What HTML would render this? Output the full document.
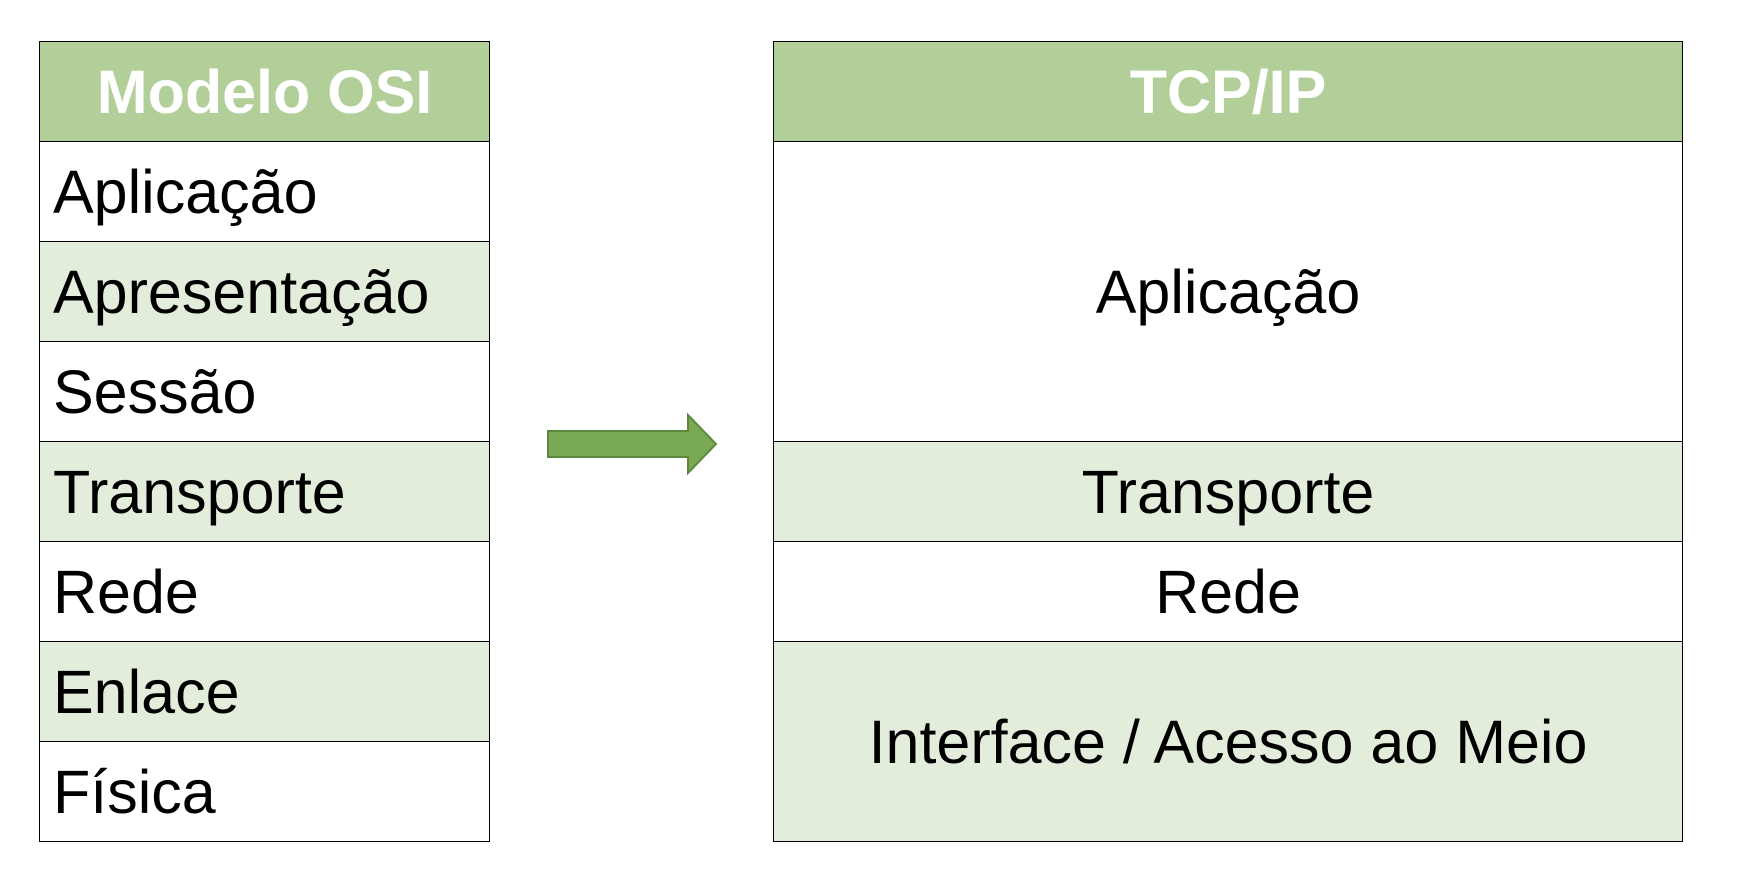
<!DOCTYPE html>
<html><head><meta charset="utf-8"><style>
body{margin:0;width:1738px;height:886px;background:#fff;overflow:hidden;font-family:"Comic Sans MS","Liberation Sans",sans-serif;}
.c{position:absolute;box-sizing:border-box;border:1.5px solid #000;display:flex;align-items:center;font-size:61px;color:#000;}
.h{background:#b3cf99;color:#fff;font-weight:bold;justify-content:center;}
.g{background:#e3eddb;}
.l{padding-left:13px;}
.r{justify-content:center;}
</style></head><body>
<div class="c h" style="left:39px;top:41px;width:451px;height:101px">Modelo OSI</div>
<div class="c l" style="left:39px;top:141px;width:451px;height:101px">Aplicação</div>
<div class="c l g" style="left:39px;top:241px;width:451px;height:101px">Apresentação</div>
<div class="c l" style="left:39px;top:341px;width:451px;height:101px">Sessão</div>
<div class="c l g" style="left:39px;top:441px;width:451px;height:101px">Transporte</div>
<div class="c l" style="left:39px;top:541px;width:451px;height:101px">Rede</div>
<div class="c l g" style="left:39px;top:641px;width:451px;height:101px">Enlace</div>
<div class="c l" style="left:39px;top:741px;width:451px;height:101px">Física</div>

<div class="c h" style="left:773px;top:41px;width:910px;height:101px">TCP/IP</div>
<div class="c r" style="left:773px;top:141px;width:910px;height:301px">Aplicação</div>
<div class="c r g" style="left:773px;top:441px;width:910px;height:101px">Transporte</div>
<div class="c r" style="left:773px;top:541px;width:910px;height:101px">Rede</div>
<div class="c r g" style="left:773px;top:641px;width:910px;height:201px">Interface / Acesso ao Meio</div>

<svg style="position:absolute;left:0;top:0" width="1738" height="886">
<polygon points="548,431 688,431 688,415 716,444 688,473 688,457 548,457" fill="#7aa955" stroke="#5b8a3c" stroke-width="2"/>
</svg>
</body></html>
